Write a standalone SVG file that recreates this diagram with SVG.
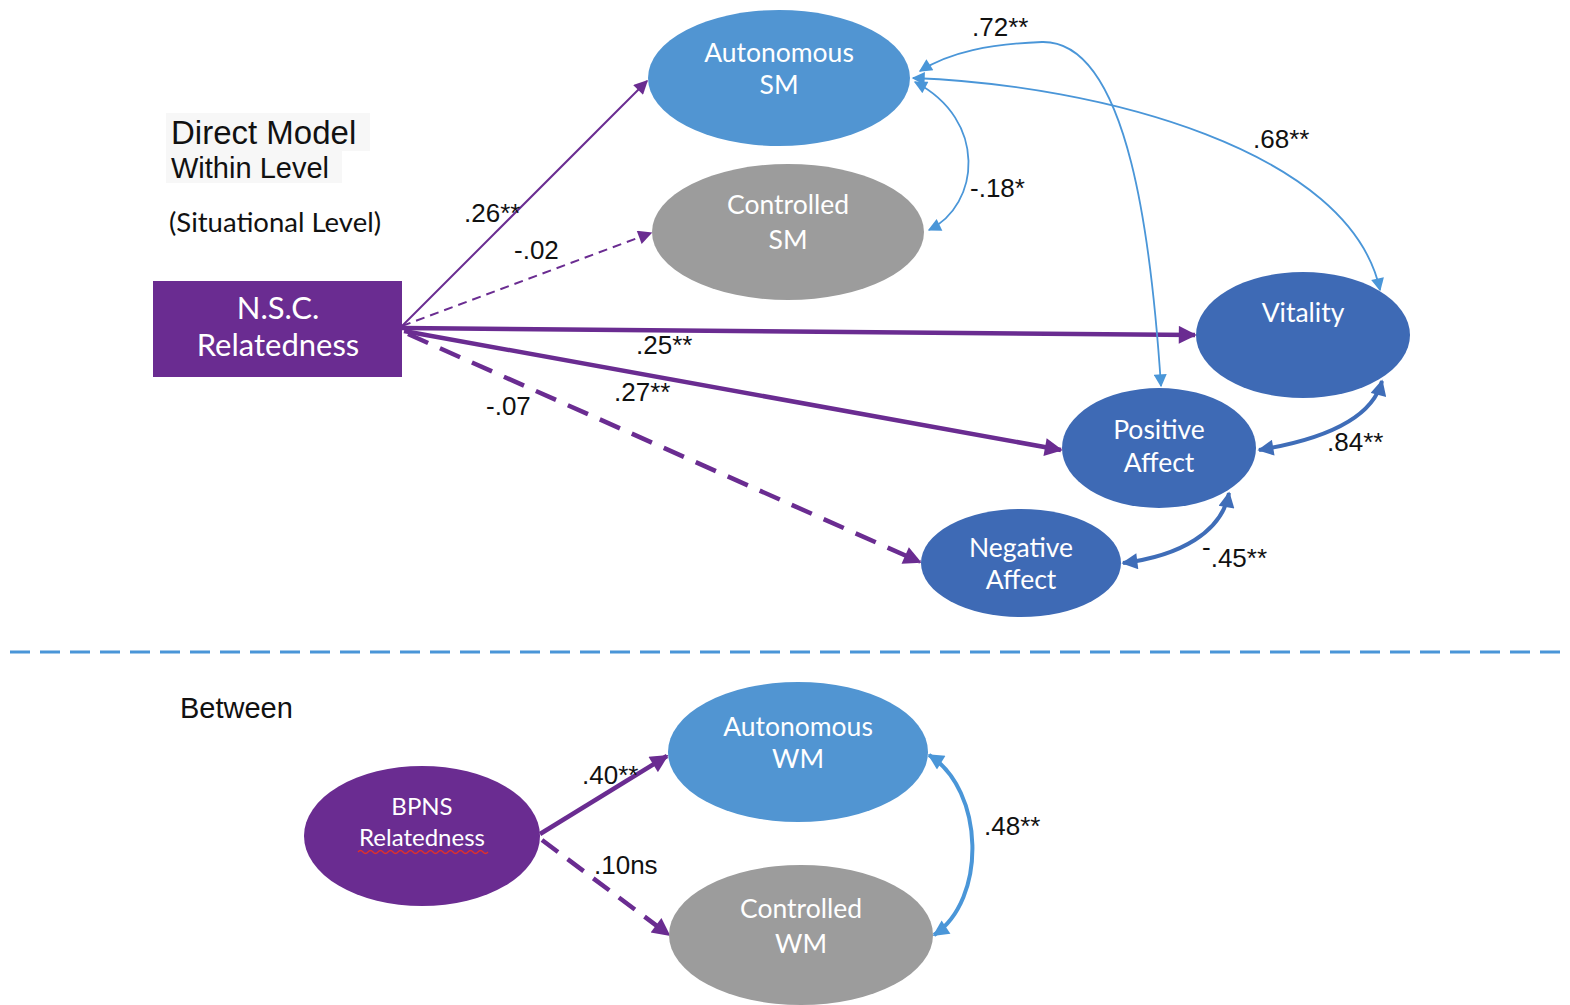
<svg xmlns="http://www.w3.org/2000/svg" width="1570" height="1005" viewBox="0 0 1570 1005">
  <style>
    .lbl { font-family: "Liberation Sans", Arial, sans-serif; font-size: 26px; fill: #111; }
    .title { font-family: "Liberation Sans", Arial, sans-serif; fill: #111; }
    .node-text { font-family: "Lato", "Open Sans", sans-serif; fill: #fff; text-anchor: middle; }
    .purple-thin { stroke: #6a2c91; stroke-width: 2; fill: none; }
    .purple-thick { stroke: #6a2c91; stroke-width: 4.5; fill: none; }
    .blue-thin { stroke: #4a96d8; stroke-width: 1.8; fill: none; }
    .blue-thick { stroke: #3f6db8; stroke-width: 4; fill: none; }
    .lightblue-thick { stroke: #4a96d8; stroke-width: 4; fill: none; }
  </style>
  <defs>
    <marker id="ah-purple" viewBox="0 0 10 10" refX="9" refY="5" markerWidth="16" markerHeight="14" markerUnits="userSpaceOnUse" orient="auto">
      <path d="M0,0 L10,5 L0,10 z" fill="#6a2c91"/>
    </marker>
    <marker id="ah-purple-lg" viewBox="0 0 10 10" refX="9" refY="5" markerWidth="20" markerHeight="18" markerUnits="userSpaceOnUse" orient="auto">
      <path d="M0,0 L10,5 L0,10 z" fill="#6a2c91"/>
    </marker>
    <marker id="ah-blue" viewBox="0 0 10 10" refX="9" refY="5" markerWidth="15" markerHeight="13" markerUnits="userSpaceOnUse" orient="auto-start-reverse">
      <path d="M0,0 L10,5 L0,10 z" fill="#4a96d8"/>
    </marker>
    <marker id="ah-dblue" viewBox="0 0 10 10" refX="9" refY="5" markerWidth="18" markerHeight="16" markerUnits="userSpaceOnUse" orient="auto-start-reverse">
      <path d="M0,0 L10,5 L0,10 z" fill="#3f6db8"/>
    </marker>
    <marker id="ah-lblue" viewBox="0 0 10 10" refX="9" refY="5" markerWidth="18" markerHeight="16" markerUnits="userSpaceOnUse" orient="auto-start-reverse">
      <path d="M0,0 L10,5 L0,10 z" fill="#4a96d8"/>
    </marker>
  </defs>

  <rect width="1570" height="1005" fill="#fff"/>

  <!-- headings -->
  <rect x="166" y="113" width="204" height="38" fill="#f7f7f7"/>
  <rect x="166" y="151" width="176" height="32" fill="#f7f7f7"/>
  <text class="title" x="171" y="144" font-size="33">Direct Model</text>
  <text class="title" x="171" y="178" font-size="29">Within Level</text>
  <text x="169" y="232" font-family="Lato, 'Open Sans', sans-serif" font-size="27.5" fill="#111">(Situational Level)</text>
  <text class="title" x="180" y="718" font-size="29">Between</text>

  <!-- level divider -->
  <line x1="10" y1="652" x2="1570" y2="652" stroke="#4a96d8" stroke-width="3" stroke-dasharray="20 10"/>

  <!-- connectors -->
  <g id="connectors">
    <line class="purple-thin" x1="402" y1="326" x2="647" y2="81" marker-end="url(#ah-purple)"/>
    <line class="purple-thin" x1="402" y1="326" x2="651" y2="233" stroke-dasharray="9 6" marker-end="url(#ah-purple)"/>
    <line class="purple-thick" x1="402" y1="328" x2="1195" y2="335" marker-end="url(#ah-purple-lg)"/>
    <line class="purple-thick" x1="404" y1="331" x2="1061" y2="450" marker-end="url(#ah-purple-lg)"/>
    <line class="purple-thick" x1="408" y1="334" x2="920" y2="562" stroke-dasharray="22 13" marker-end="url(#ah-purple-lg)"/>

    <path class="blue-thin" d="M 1161 386 C 1152 250, 1130 40, 1042 42 C 990 44, 950 52, 920 71" marker-start="url(#ah-blue)" marker-end="url(#ah-blue)"/>
    <path class="blue-thin" d="M 913 78 C 1100 85, 1350 150, 1380 290" marker-start="url(#ah-blue)" marker-end="url(#ah-blue)"/>
    <path class="blue-thin" d="M 915 82 C 988 120, 980 205, 929 230" marker-start="url(#ah-blue)" marker-end="url(#ah-blue)"/>

    <path class="blue-thick" d="M 1259 450 C 1320 440, 1372 420, 1382 381" marker-start="url(#ah-dblue)" marker-end="url(#ah-dblue)"/>
    <path class="blue-thick" d="M 1123 563 C 1180 556, 1222 532, 1229 493" marker-start="url(#ah-dblue)" marker-end="url(#ah-dblue)"/>

    <line class="purple-thick" x1="540" y1="834" x2="667" y2="756" marker-end="url(#ah-purple-lg)"/>
    <line class="purple-thick" x1="542" y1="840" x2="669" y2="935" stroke-dasharray="20 12" marker-end="url(#ah-purple-lg)"/>
    <path class="lightblue-thick" d="M 929 755 C 985 790, 987 900, 934 935" marker-start="url(#ah-lblue)" marker-end="url(#ah-lblue)"/>
  </g>

  <!-- path coefficients -->
  <g id="coefficients">
    <text class="lbl" x="972" y="36">.72**</text>
    <text class="lbl" x="464" y="222">.26**</text>
    <text class="lbl" x="514" y="259">-.02</text>
    <text class="lbl" x="1253" y="148">.68**</text>
    <text class="lbl" x="970" y="197">-.18*</text>
    <text class="lbl" x="636" y="354">.25**</text>
    <text class="lbl" x="614" y="401">.27**</text>
    <text class="lbl" x="486" y="415">-.07</text>
    <text class="lbl" x="1327" y="451">.84**</text>
    <text class="lbl" x="1202" y="567"><tspan dy="-11">-</tspan><tspan dy="11">.45**</tspan></text>
    <text class="lbl" x="582" y="784">.40**</text>
    <text class="lbl" x="594" y="874">.10ns</text>
    <text class="lbl" x="984" y="835">.48**</text>
  </g>

  <!-- within-level nodes -->
  <g id="nsc-relatedness">
    <rect x="153" y="281" width="249" height="96" fill="#6a2c91"/>
    <text class="node-text" x="278" y="319" font-size="31">N.S.C.</text>
    <text class="node-text" x="278" y="356" font-size="31">Relatedness</text>
  </g>
  <g id="autonomous-sm">
    <ellipse cx="779" cy="78" rx="131" ry="68" fill="#5195d2"/>
    <text class="node-text" x="779" y="62" font-size="26.5">Autonomous</text>
    <text class="node-text" x="779" y="94" font-size="26.5">SM</text>
  </g>
  <g id="controlled-sm">
    <ellipse cx="788" cy="232" rx="136" ry="68" fill="#9c9c9c"/>
    <text class="node-text" x="788" y="214" font-size="26.5">Controlled</text>
    <text class="node-text" x="788" y="249" font-size="26.5">SM</text>
  </g>
  <g id="vitality">
    <ellipse cx="1303" cy="335" rx="107" ry="63" fill="#3e6ab5"/>
    <text class="node-text" x="1303" y="322" font-size="26.5">Vitality</text>
  </g>
  <g id="positive-affect">
    <ellipse cx="1159" cy="448" rx="97" ry="60" fill="#3e6ab5"/>
    <text class="node-text" x="1159" y="439" font-size="26.5">Positive</text>
    <text class="node-text" x="1159" y="472" font-size="26.5">Affect</text>
  </g>
  <g id="negative-affect">
    <ellipse cx="1021" cy="563" rx="100" ry="54" fill="#3e6ab5"/>
    <text class="node-text" x="1021" y="557" font-size="26.5">Negative</text>
    <text class="node-text" x="1021" y="589" font-size="26.5">Affect</text>
  </g>

  <!-- between-level nodes -->
  <g id="bpns-relatedness">
    <ellipse cx="422" cy="836" rx="118" ry="70" fill="#6a2c91"/>
    <text class="node-text" x="422" y="815" font-size="24">BPNS</text>
    <text class="node-text" x="422" y="846" font-size="24">Relatedness</text>
    <path d="M358 852 q2.5 -3 5 0 t5 0 t5 0 t5 0 t5 0 t5 0 t5 0 t5 0 t5 0 t5 0 t5 0 t5 0 t5 0 t5 0 t5 0 t5 0 t5 0 t5 0 t5 0 t5 0 t5 0 t5 0 t5 0 t5 0 t5 0 t5 0" fill="none" stroke="#e0302a" stroke-width="1.3"/>
  </g>
  <g id="autonomous-wm">
    <ellipse cx="798" cy="752" rx="130" ry="70" fill="#5195d2"/>
    <text class="node-text" x="798" y="736" font-size="26.5">Autonomous</text>
    <text class="node-text" x="798" y="768" font-size="26.5">WM</text>
  </g>
  <g id="controlled-wm">
    <ellipse cx="801" cy="935" rx="132" ry="70" fill="#9c9c9c"/>
    <text class="node-text" x="801" y="918" font-size="26.5">Controlled</text>
    <text class="node-text" x="801" y="953" font-size="26.5">WM</text>
  </g>
</svg>
